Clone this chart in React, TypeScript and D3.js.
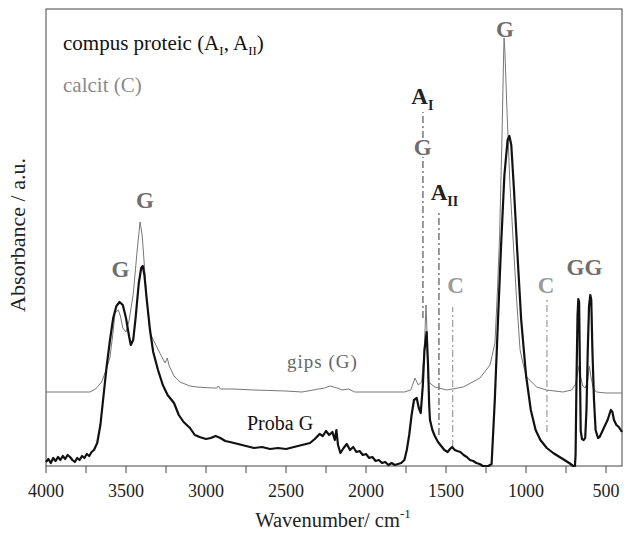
import * as d3 from 'd3'

// IR spectra, absorbance in arbitrary units
const gipsSpectrum: [number, number][] = [
  [4000, 74], [3800, 74], [3725, 74], [3690, 77], [3652, 84], [3620, 98], [3600, 109],
  [3580, 135], [3569, 153], [3548, 156], [3535, 150], [3520, 138], [3500, 134], [3480, 146],
  [3454, 173], [3430, 216], [3412, 244], [3400, 232], [3392, 216], [3370, 165], [3350, 133],
  [3298, 116], [3256, 103], [3242, 108], [3230, 100], [3200, 90], [3163, 84], [3100, 80],
  [3058, 79], [2960, 78], [2933, 78], [2923, 80], [2910, 77], [2831, 77], [2700, 76],
  [2500, 75], [2400, 74], [2330, 76], [2260, 78], [2225, 80], [2180, 78], [2150, 76],
  [2110, 77], [2070, 74], [1900, 74], [1760, 74], [1720, 76], [1694, 88], [1673, 81],
  [1652, 84], [1638, 110], [1630, 140], [1625, 161], [1620, 140], [1615, 100], [1610, 84],
  [1569, 79], [1496, 76], [1392, 79], [1288, 88], [1225, 101], [1194, 123], [1180, 170],
  [1165, 230], [1150, 330], [1140, 410], [1137, 428], [1132, 415], [1120, 360], [1100, 280],
  [1080, 225], [1060, 170], [1037, 116], [1015, 100], [996, 89], [933, 79], [871, 76],
  [769, 74], [715, 76], [690, 82], [675, 95], [668, 100], [660, 90], [645, 80], [630, 78],
  [615, 85], [604, 100], [595, 90], [580, 78], [560, 74], [500, 73], [400, 73],
]

const probaSpectrum: [number, number][] = [
  [4000, 4], [3985, 7], [3970, 3], [3955, 8], [3940, 5], [3925, 9], [3910, 6], [3895, 10],
  [3880, 7], [3865, 11], [3850, 9], [3835, 6], [3820, 4], [3805, 8], [3790, 6], [3775, 10],
  [3760, 8], [3745, 12], [3730, 10], [3715, 14], [3700, 16], [3680, 23], [3660, 41],
  [3640, 71], [3620, 101], [3600, 126], [3580, 148], [3560, 160], [3540, 164], [3520, 161],
  [3500, 148], [3480, 129], [3470, 121], [3455, 126], [3440, 148], [3420, 183], [3405, 198],
  [3395, 200], [3385, 191], [3370, 166], [3350, 136], [3330, 114], [3300, 96], [3270, 81],
  [3240, 71], [3200, 63], [3170, 51], [3140, 44], [3100, 38], [3070, 31], [3040, 29],
  [3000, 27], [2970, 28], [2940, 30], [2910, 28], [2880, 25], [2850, 24], [2800, 22],
  [2750, 20], [2700, 18], [2650, 19], [2600, 17], [2550, 18], [2500, 17], [2450, 19],
  [2400, 21], [2350, 23], [2320, 27], [2290, 32], [2270, 30], [2250, 35], [2230, 31],
  [2210, 34], [2195, 26], [2185, 36], [2175, 21], [2160, 13], [2140, 18], [2120, 22],
  [2100, 16], [2080, 19], [2060, 14], [2040, 15], [2020, 11], [2000, 12], [1980, 8],
  [1960, 9], [1940, 5], [1920, 6], [1900, 3], [1880, 4], [1860, 1], [1840, 3], [1820, 1],
  [1800, 2], [1780, 3], [1760, 6], [1745, 16], [1730, 31], [1715, 51], [1700, 66],
  [1683, 68], [1670, 58], [1658, 53], [1645, 80], [1635, 115], [1621, 134], [1612, 100],
  [1605, 60], [1600, 46], [1585, 36], [1570, 30], [1550, 24], [1530, 20], [1510, 16],
  [1490, 14], [1475, 17], [1462, 19], [1445, 16], [1430, 15], [1410, 14], [1390, 11],
  [1370, 9], [1350, 6], [1330, 5], [1310, 3], [1290, 2], [1270, 0], [1235, 0], [1215, 2],
  [1195, 66], [1175, 146], [1157, 216], [1135, 291], [1115, 326], [1104, 330], [1092, 321],
  [1075, 276], [1055, 216], [1030, 146], [1000, 91], [970, 56], [940, 36], [910, 26],
  [870, 18], [830, 13], [790, 9], [760, 6], [730, 3], [705, 0], [694, 0], [690, 12],
  [684, 90], [678, 150], [673, 167], [668, 164], [664, 110], [658, 35], [650, 27],
  [640, 26], [630, 28], [622, 56], [614, 116], [606, 160], [598, 171], [592, 166],
  [585, 116], [575, 66], [565, 36], [550, 28], [540, 29], [525, 34], [505, 41], [490, 46],
  [470, 56], [460, 54], [450, 46], [435, 41], [420, 39], [400, 34],
]

// band assignments: dash-dot marker lines
const markerLines = [
  { wn: 1644, from: 148, to: 354, color: '#333' },
  { wn: 1544, from: 31, to: 256, color: '#333' },
  { wn: 1458, from: 19, to: 159, color: '#888' },
  { wn: 869, from: 34, to: 169, color: '#888' },
]

// peak labels
const gipsLabels = [
  { wn: 3535, a: 189, text: 'G' },
  { wn: 3382, a: 258, text: 'G' },
  { wn: 1646, a: 311, text: 'G' },
  { wn: 1132, a: 429, text: 'G' },
  { wn: 635, a: 191, text: 'GG' },
]
const calcitLabels = [
  { wn: 1440, a: 173 },
  { wn: 875, a: 173 },
]

const xTicks = d3.range(4000, 499, -250)
const xLabels = d3.range(4000, 499, -500)

const W = 627
const H = 533
const left = 46
const right = 622
const top = 9
const bottom = 466

const serif = '"Liberation Serif", "Times New Roman", serif'

export default function App() {
  const x = d3.scaleLinear().domain([4000, 400]).range([left, right])
  const y = d3.scaleLinear().domain([0, 457]).range([bottom, top])
  const line = d3.line<[number, number]>().x(d => x(d[0])).y(d => y(d[1]))

  return (
    <svg width={W} height={H} style={{ position: 'absolute', left: 0, top: 0, background: '#fff' }}
      fontFamily={serif}>
      <rect x={left} y={top} width={right - left} height={bottom - top} fill="none" stroke="#444" strokeWidth={1} />

      {/* marker lines */}
      {markerLines.map((m, i) => (
        <line key={i} x1={x(m.wn)} x2={x(m.wn)} y1={y(m.from)} y2={y(m.to)}
          stroke={m.color} strokeWidth={1} strokeDasharray="7,3,2,3" />
      ))}

      <path d={line(gipsSpectrum) ?? ''} fill="none" stroke="#777" strokeWidth={1} />
      <path d={line(probaSpectrum) ?? ''} fill="none" stroke="#111" strokeWidth={2.2} strokeLinejoin="round" />

      {/* white backing behind G label on A_I line */}
      <rect x={x(1646) - 9} y={y(311) - 17} width={18} height={19} fill="#fff" />

      {gipsLabels.map((l, i) => (
        <text key={i} x={x(l.wn)} y={y(l.a)} textAnchor="middle" fontSize={23} fontWeight="bold" fill="#6e6e6e">
          {l.text}
        </text>
      ))}
      {calcitLabels.map((l, i) => (
        <text key={i} x={x(l.wn)} y={y(l.a)} textAnchor="middle" fontSize={23} fontWeight="bold" fill="#9a9a9a">
          C
        </text>
      ))}

      <text x={x(1648)} y={y(362)} textAnchor="middle" fontSize={23} fontWeight="bold" fill="#222">
        A<tspan fontSize={14} dy={6}>I</tspan>
      </text>
      <text x={x(1510)} y={y(266)} textAnchor="middle" fontSize={23} fontWeight="bold" fill="#222">
        A<tspan fontSize={14} dy={6}>II</tspan>
      </text>

      {/* legend */}
      <text x={63} y={50} fontSize={21} fill="#111">
        compus proteic (A<tspan fontSize={13} dy={5}>I</tspan>
        <tspan dy={-5}>, A</tspan><tspan fontSize={13} dy={5}>II</tspan><tspan dy={-5}>)</tspan>
      </text>
      <text x={63} y={92} fontSize={21} fill="#8a8a8a">calcit (C)</text>

      <text x={287} y={368} fontSize={19} fill="#666" letterSpacing={1}>gips (G)</text>
      <text x={247} y={430} fontSize={20} fill="#111">Proba G</text>

      {/* x axis */}
      {xTicks.map(t => (
        <line key={t} x1={x(t)} x2={x(t)} y1={bottom} y2={bottom + 7} stroke="#444" strokeWidth={1} />
      ))}
      {xLabels.map(t => (
        <text key={t} x={x(t)} y={497} textAnchor="middle" fontSize={18} fill="#222">{t}</text>
      ))}
      <text x={333} y={527} textAnchor="middle" fontSize={20.5} fill="#222">
        Wavenumber/ cm<tspan fontSize={13} dy={-9}>-1</tspan>
      </text>
      <text transform="translate(25,235) rotate(-90)" textAnchor="middle" fontSize={22} fill="#222">
        Absorbance / a.u.
      </text>
    </svg>
  )
}
